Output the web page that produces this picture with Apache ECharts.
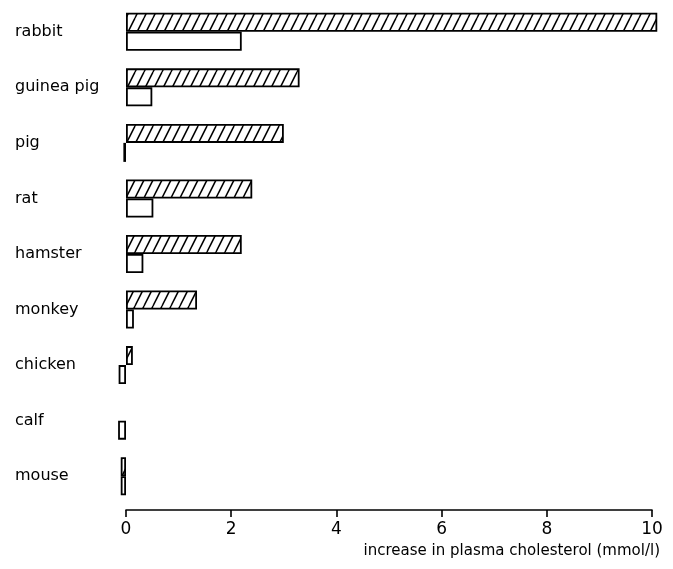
<!DOCTYPE html>
<html>
<head>
<meta charset="utf-8">
<script src="https://cdn.jsdelivr.net/npm/echarts@6/dist/echarts.min.js"></script>
<style>
  html, body { margin: 0; padding: 0; background: #fff; }
  #chart { width: 673px; height: 569px; }
</style>
</head>
<body>
<div id="chart"></div>
<script>
// species, top to bottom
const animals = ['rabbit', 'guinea pig', 'pig', 'rat', 'hamster', 'monkey', 'chicken', 'calf', 'mouse'];
// hatched bars (upper bar of each pair)
const hatchedValues = [10.1, 3.3, 3.0, 2.4, 2.2, 1.35, 0.13, null, -0.1];
// open bars (lower bar of each pair)
const openValues = [2.2, 0.5, -0.05, 0.52, 0.33, 0.15, -0.14, -0.15, -0.1];
const xTicks = [0, 2, 4, 6, 8, 10];

// diagonal hatching tile
const tile = document.createElement('canvas');
tile.width = 9;
tile.height = 18;
const tctx = tile.getContext('2d');
tctx.fillStyle = '#fff';
tctx.fillRect(0, 0, 9, 18);
tctx.strokeStyle = '#000';
tctx.lineWidth = 1.5;
for (let k = -1; k <= 1; k++) {
    tctx.beginPath();
    tctx.moveTo(9 * k, 18);
    tctx.lineTo(9 * k + 9, 0);
    tctx.stroke();
}

const font = '"DejaVu Sans", sans-serif';
const chart = echarts.init(document.getElementById('chart'));

chart.setOption({
    animation: false,
    backgroundColor: '#fff',
    grid: { left: 126, right: 21, top: 4, height: 500 },
    xAxis: {
        type: 'value',
        min: 0,
        max: 10,
        interval: 2,
        offset: 6,
        axisLine: { show: true, lineStyle: { color: '#000', width: 1.6 } },
        axisTick: { show: true, length: 7, lineStyle: { color: '#000', width: 1.6 } },
        splitLine: { show: false },
        axisLabel: {
            color: '#000', fontFamily: font, fontSize: 17, margin: 11,
            formatter: v => xTicks.includes(v) ? String(v) : ''
        },
        name: 'increase in plasma cholesterol (mmol/l)',
        nameLocation: 'end',
        nameGap: 8,
        nameTextStyle: {
            color: '#000', fontFamily: font, fontSize: 15,
            align: 'right', verticalAlign: 'top', padding: [34, 0, 0, 0]
        }
    },
    yAxis: {
        type: 'category',
        data: animals,
        inverse: true,
        axisLine: { show: false },
        axisTick: { show: false },
        splitLine: { show: false },
        axisLabel: {
            color: '#000', fontFamily: font, fontSize: 16,
            align: 'left', margin: 111
        }
    },
    series: [
        {
            type: 'bar',
            data: hatchedValues,
            barWidth: 19,
            barGap: '0%',
            clip: false,
            itemStyle: {
                color: { image: tile, repeat: 'repeat' },
                borderColor: '#000',
                borderWidth: 1.8
            }
        },
        {
            type: 'bar',
            data: openValues,
            barWidth: 19,
            clip: false,
            itemStyle: { color: '#fff', borderColor: '#000', borderWidth: 1.8 }
        }
    ]
});
</script>
</body>
</html>
